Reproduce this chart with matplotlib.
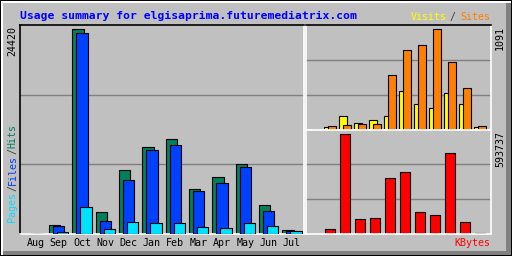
import numpy as np
import matplotlib.pyplot as plt
from matplotlib.patches import Rectangle

months = ["Aug", "Sep", "Oct", "Nov", "Dec", "Jan", "Feb", "Mar", "Apr", "May", "Jun", "Jul"]
hits = [0, 996, 24420, 2550, 7569, 10358, 11314, 5298, 6733, 8286, 3386, 398]
files = [0, 960, 23942, 1474, 6374, 9960, 10557, 5059, 6015, 7928, 2669, 358]
pages = [0, 200, 3147, 518, 1354, 1235, 1235, 757, 637, 1235, 876, 279]
visits = [0, 22, 145, 70, 100, 145, 423, 278, 234, 401, 278, 22]
sites = [0, 33, 45, 56, 56, 594, 868, 924, 1091, 735, 456, 33]
kbytes = [0, 26165, 593737, 86545, 92583, 328062, 364290, 128807, 110693, 479010, 68431, 2000]

W, H = 512, 256
BG = "#c0c0c0"
C_HITS, C_FILES, C_PAGES = "#00805c", "#0040ff", "#00e0ff"
C_VISITS, C_SITES, C_KB = "#ffff00", "#ff8000", "#ff0000"
MONO = "DejaVu Sans Mono"

fig = plt.figure(figsize=(W / 100, H / 100), dpi=100, facecolor=BG)


def px_axes(x0, y0, x1, y1):
    return fig.add_axes([x0 / W, 1 - y1 / H, (x1 - x0) / W, (y1 - y0) / H])


def ftext(x, y, s, **kw):
    kw.setdefault("family", MONO)
    kw.setdefault("fontsize", 7.2)
    fig.text(x / W, 1 - y / H, s, **kw)


def style(ax, ymax, top_col="black", left_col="black"):
    ax.set_facecolor(BG)
    ax.set_ylim(0, ymax)
    for k in (1, 2):
        ax.axhline(ymax * k / 3, color="#808080", lw=1.0, zorder=0)
    ax.set_xticks([])
    ax.set_yticks([])
    ax.spines["left"].set_color(left_col)
    ax.spines["top"].set_color(top_col)
    ax.spines["right"].set_color("white")
    ax.spines["bottom"].set_color("white")
    for s in ax.spines.values():
        s.set_linewidth(1.2)


x = np.arange(len(months))
lw = 0.8

# main panel: hits / files / pages
ax1 = px_axes(20, 25, 304, 233.7)
style(ax1, max(hits) * 1.021)
ax1.set_xlim(0, 284 / 23.33)
bw = 0.486
off = 0.171
ax1.bar(x + 0.244, hits, width=bw, align="edge", color=C_HITS, edgecolor="black", lw=lw, zorder=2)
ax1.bar(x + 0.244 + off, files, width=bw, align="edge", color=C_FILES, edgecolor="black", lw=lw, zorder=3)
ax1.bar(x + 0.244 + 2 * off, pages, width=bw, align="edge", color=C_PAGES, edgecolor="black", lw=lw, zorder=4)

# top right: visits / sites
ax2 = px_axes(305.5, 25, 490.5, 129.5)
style(ax2, max(sites) * 1.043, left_col="white")
ax2.set_xlim(0, 185 / 15)
ax2.bar(x + 0.25, visits, width=0.49, align="edge", color=C_VISITS, edgecolor="black", lw=lw, zorder=2)
ax2.bar(x + 0.25 + 0.267, sites, width=0.49, align="edge", color=C_SITES, edgecolor="black", lw=lw, zorder=3)

# bottom right: kbytes
ax3 = px_axes(305.5, 129.5, 490.5, 233.7)
style(ax3, max(kbytes) * 1.043, top_col="white", left_col="white")
ax3.set_xlim(0, 185 / 15)
ax3.bar(x + 0.32, kbytes, width=0.62, align="edge", color=C_KB, edgecolor="black", lw=lw, zorder=2)

# month labels under the main panel
for i, m in enumerate(months):
    xc = 20 + (i + 0.244 + (2 * off + bw) / 2) * 23.33
    ftext(xc, 246.5, m, ha="center", va="baseline", color="black")

# texts
ftext(20, 19, "Usage summary for elgisaprima.futuremediatrix.com", ha="left", va="baseline",
      color="#0000ff", fontsize=8.2, fontweight="bold")
ftext(410.5, 20, "Visits", ha="left", va="baseline", color=C_VISITS)
ftext(452, 20, "/", ha="center", va="baseline", color="#404040")
ftext(490, 20, "Sites", ha="right", va="baseline", color=C_SITES)
ftext(490, 246.5, "KBytes", ha="right", va="baseline", color=C_KB)

ftext(12.5, 26, f"{max(hits)}", rotation=90, ha="center", va="top", color="black")
ftext(500, 26, f"{max(sites)}", rotation=90, ha="center", va="top", color="black")
ftext(500, 131, f"{max(kbytes)}", rotation=90, ha="center", va="top", color="black")

ftext(12.5, 221.5, "Pages", rotation=90, ha="center", va="bottom", color=C_PAGES)
ftext(12.5, 191, "/", rotation=90, ha="center", va="bottom", color="#404040")
ftext(12.5, 185, "Files", rotation=90, ha="center", va="bottom", color=C_FILES)
ftext(12.5, 154.5, "/", rotation=90, ha="center", va="bottom", color="#404040")
ftext(12.5, 148.5, "Hits", rotation=90, ha="center", va="bottom", color=C_HITS)


# outer bevel frame
def frect(x0, y0, x1, y1, c):
    fig.add_artist(Rectangle((x0 / W, 1 - y1 / H), (x1 - x0) / W, (y1 - y0) / H,
                             transform=fig.transFigure, facecolor=c, edgecolor="none", zorder=10))


frect(1, 1, 511, 3, "white")
frect(1, 1, 3, 255, "white")
frect(506, 3, 511, 255, "#808080")
frect(3, 251, 511, 255, "#808080")
frect(0, 0, 512, 1, "black")
frect(0, 255, 512, 256, "black")
frect(0, 0, 1, 256, "black")
frect(511, 0, 512, 256, "black")

fig.savefig("out.png", dpi=100, facecolor=BG)
plt.close()
